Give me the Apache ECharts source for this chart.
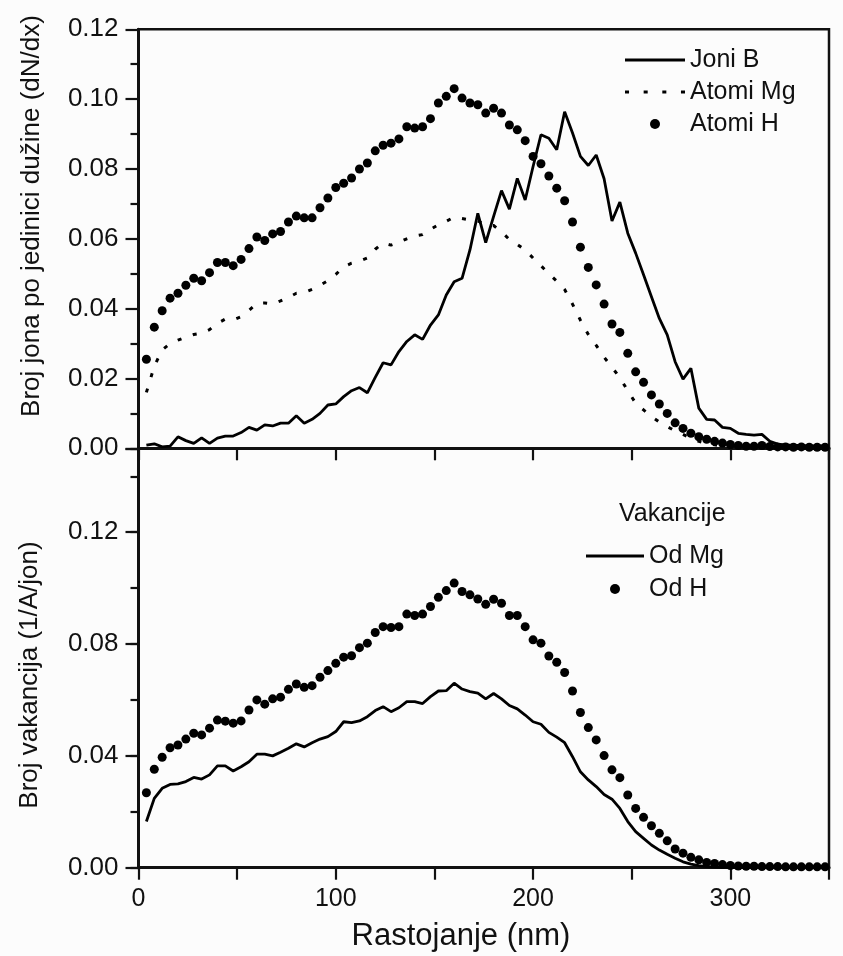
<!DOCTYPE html>
<html>
<head>
<meta charset="utf-8">
<script src="https://cdn.jsdelivr.net/npm/echarts@6/dist/echarts.min.js"></script>
<style>
html,body{margin:0;padding:0;background:#fcfcfc;}
#chart{width:843px;height:956px;}
</style>
</head>
<body>
<div id="chart"></div>
<script>
// Depth (nm)
var depth = [4,8,12,16,20,24,28,32,36,40,
  44,48,52,56,60,64,68,72,76,80,
  84,88,92,96,100,104,108,112,116,120,
  124,128,132,136,140,144,148,152,156,160,
  164,168,172,176,180,184,188,192,196,200,
  204,208,212,216,220,224,228,232,236,240,
  244,248,252,256,260,264,268,272,276,280,
  284,288,292,296,300,304,308,312,316,320,
  324,328,332,336,340,344,348];

var joniB = [0.0009,0.0013,0.0004,0.0006,0.0033,0.0022,0.0014,0.0030,0.0014,0.0029,
  0.0035,0.0035,0.0045,0.0060,0.0052,0.0067,0.0064,0.0072,0.0072,0.0093,
  0.0072,0.0083,0.0100,0.0124,0.0127,0.0148,0.0165,0.0174,0.0159,0.0203,
  0.0245,0.0239,0.0277,0.0306,0.0325,0.0312,0.0353,0.0382,0.0439,0.0477,
  0.0487,0.0568,0.0673,0.0589,0.0664,0.0738,0.0685,0.0773,0.0711,0.0807,
  0.0898,0.0888,0.0855,0.0964,0.0903,0.0836,0.0810,0.0840,0.0772,0.0651,
  0.0705,0.0616,0.0559,0.0497,0.0434,0.0372,0.0325,0.0248,0.0198,0.0229,
  0.0115,0.0083,0.0081,0.0060,0.0057,0.0043,0.0040,0.0038,0.0040,0.0020,
  0.0012,0.0010,0.0008,0.0008,0.0007,0.0007,0.0007];

var atomiMg = [0.0160,0.0235,0.0282,0.0300,0.0310,0.0318,0.0326,0.0330,0.0340,0.0358,
  0.0370,0.0368,0.0377,0.0395,0.0415,0.0416,0.0413,0.0422,0.0432,0.0444,
  0.0446,0.0455,0.0467,0.0480,0.0498,0.0520,0.0530,0.0536,0.0545,0.0570,
  0.0588,0.0582,0.0590,0.0600,0.0608,0.0612,0.0627,0.0640,0.0650,0.0662,
  0.0658,0.0654,0.0651,0.0640,0.0638,0.0620,0.0598,0.0584,0.0568,0.0545,
  0.0523,0.0500,0.0479,0.0455,0.0413,0.0367,0.0326,0.0295,0.0261,0.0232,
  0.0202,0.0165,0.0129,0.0110,0.0091,0.0075,0.0062,0.0050,0.0040,0.0028,
  0.0020,0.0014,0.0010,0.0006,0.0004,0.0003,0.0002,0.0002,0.0002,0.0001,
  0.0001,0.0001,0.0001,0.0001,0.0001,0.0001,0.0001];

var atomiH = [0.0255,0.0347,0.0394,0.0430,0.0444,0.0467,0.0487,0.0480,0.0503,0.0532,
  0.0532,0.0523,0.0541,0.0572,0.0605,0.0595,0.0614,0.0621,0.0648,0.0665,
  0.0660,0.0660,0.0689,0.0717,0.0747,0.0759,0.0774,0.0800,0.0817,0.0852,
  0.0868,0.0874,0.0886,0.0921,0.0917,0.0921,0.0944,0.0989,0.1008,0.1030,
  0.1003,0.0989,0.0984,0.0960,0.0974,0.0960,0.0926,0.0912,0.0881,0.0836,
  0.0815,0.0780,0.0745,0.0709,0.0648,0.0576,0.0518,0.0468,0.0413,0.0356,
  0.0332,0.0272,0.0219,0.0189,0.0153,0.0127,0.0100,0.0073,0.0057,0.0043,
  0.0033,0.0026,0.0020,0.0015,0.0011,0.0008,0.0006,0.0006,0.0008,0.0005,
  0.0004,0.0004,0.0003,0.0004,0.0003,0.0003,0.0003];

var odMg = [0.0165,0.0248,0.0284,0.0298,0.0300,0.0308,0.0323,0.0317,0.0332,0.0364,
  0.0364,0.0346,0.0361,0.0379,0.0406,0.0406,0.0400,0.0413,0.0427,0.0443,
  0.0432,0.0447,0.0460,0.0469,0.0487,0.0522,0.0519,0.0525,0.0540,0.0562,
  0.0576,0.0558,0.0572,0.0594,0.0594,0.0587,0.0612,0.0632,0.0633,0.0660,
  0.0639,0.0630,0.0624,0.0604,0.0623,0.0604,0.0580,0.0568,0.0546,0.0522,
  0.0513,0.0484,0.0467,0.0447,0.0397,0.0343,0.0314,0.0290,0.0262,0.0245,
  0.0212,0.0165,0.0129,0.0105,0.0081,0.0063,0.0048,0.0034,0.0021,0.0013,
  0.0007,0.0004,0.0002,0.0001,0.0001,0.0001,0.0001,0.0001,0.0001,0.0001,
  0.0001,0.0001,0.0001,0.0001,0.0001,0.0001,0.0001];

var odH = [0.0268,0.0352,0.0395,0.0429,0.0439,0.0460,0.0481,0.0475,0.0499,0.0528,
  0.0524,0.0517,0.0525,0.0564,0.0600,0.0585,0.0604,0.0610,0.0638,0.0657,
  0.0645,0.0651,0.0681,0.0705,0.0731,0.0753,0.0758,0.0787,0.0803,0.0841,
  0.0862,0.0859,0.0862,0.0907,0.0902,0.0907,0.0934,0.0967,0.0991,0.1018,
  0.0988,0.0976,0.0961,0.0942,0.0960,0.0946,0.0902,0.0902,0.0862,0.0815,
  0.0803,0.0757,0.0735,0.0698,0.0632,0.0555,0.0501,0.0457,0.0401,0.0350,
  0.0322,0.0260,0.0212,0.0180,0.0150,0.0123,0.0096,0.0067,0.0052,0.0037,
  0.0028,0.0019,0.0015,0.0011,0.0008,0.0006,0.0005,0.0005,0.0004,0.0004,
  0.0004,0.0003,0.0003,0.0003,0.0003,0.0003,0.0003];

var xLabelsShown = [0,100,200,300];
var topTicks = [0,0.02,0.04,0.06,0.08,0.10,0.12];
var bottomTicks = [0,0.04,0.08,0.12];

var FONT = "'Liberation Sans', Arial, Helvetica, sans-serif";
var INK = '#111';

function pairs(arr){ return depth.map(function(x,i){ return [x, arr[i]]; }); }
function near(v, list){ for (var i=0;i<list.length;i++){ if (Math.abs(v-list[i])<1e-6) return true; } return false; }

var axisLineStyle = {show:true, lineStyle:{color:INK, width:3}};
var tickStyle = {color:INK, width:2.2};
var yLabelStyle = {color:INK, fontSize:26, fontFamily:FONT};
var xLabelStyle = {color:INK, fontSize:25, fontFamily:FONT};

var solidIcon = 'path://M0,0H60V2.8H0Z';
var dottedIcon = 'path://M0,0h4v3h-4zM18.5,0h4v3h-4zM37,0h4v3h-4zM55.5,0h4v3h-4z';

var chart = echarts.init(document.getElementById('chart'), null, {renderer:'canvas'});
chart.setOption({
  backgroundColor:'#fcfcfc',
  animation:false,
  grid:[
    {left:138.5, right:14, top:29.3, height:419, show:true, borderColor:INK, borderWidth:2.5, backgroundColor:'transparent'},
    {left:138.5, right:14, top:448.3, height:419.4, show:true, borderColor:INK, borderWidth:2.5, backgroundColor:'transparent'}
  ],
  xAxis:[
    {gridIndex:0, type:'value', min:0, max:350, interval:50,
     axisLine:axisLineStyle, axisTick:{show:true, inside:false, length:12, lineStyle:tickStyle},
     axisLabel:{show:false}, splitLine:{show:false}},
    {gridIndex:1, type:'value', min:0, max:350, interval:50,
     axisLine:axisLineStyle, axisTick:{show:true, inside:false, length:12, lineStyle:tickStyle},
     axisLabel:Object.assign({margin:19, formatter:function(v){ return near(v, xLabelsShown) ? String(v) : ''; }}, xLabelStyle),
     splitLine:{show:false}}
  ],
  yAxis:[
    {gridIndex:0, type:'value', min:0, max:0.12, interval:0.02,
     axisLine:axisLineStyle, axisTick:{show:true, inside:false, length:13, lineStyle:tickStyle},
     minorTick:{show:true, splitNumber:2, length:8, lineStyle:tickStyle},
     axisLabel:Object.assign({margin:20, formatter:function(v){ return near(v, topTicks) ? v.toFixed(2) : ''; }}, yLabelStyle),
     splitLine:{show:false}, minorSplitLine:{show:false}},
    {gridIndex:1, type:'value', position:'left', min:0, max:0.15, interval:0.04,
     axisLine:axisLineStyle, axisTick:{show:true, inside:false, length:13, lineStyle:tickStyle},
     axisLabel:Object.assign({margin:20, formatter:function(v){ return near(v, bottomTicks) ? v.toFixed(2) : ''; }}, yLabelStyle),
     splitLine:{show:false}},
    {gridIndex:1, type:'value', position:'left', min:0, max:0.15, interval:0.02,
     axisLine:{show:false}, axisTick:{show:true, inside:false, length:8, lineStyle:tickStyle},
     axisLabel:{show:false}, splitLine:{show:false}}
  ],
  legend:[
    {data:[{name:'Joni B', icon:solidIcon},{name:'Atomi Mg', icon:dottedIcon},{name:'Atomi H', icon:'circle'}],
     orient:'vertical', left:625, top:47, padding:0,
     itemWidth:60, itemHeight:10, itemGap:6, selectedMode:false,
     itemStyle:{color:'#000', opacity:1},
     textStyle:{color:INK, fontSize:25, fontFamily:FONT, lineHeight:26}},
    {data:[{name:'Od Mg', icon:'path://M0,0H58V2.8H0Z'},{name:'Od H', icon:'circle'}],
     orient:'vertical', left:586, top:543, padding:0,
     itemWidth:58, itemHeight:10, itemGap:7, selectedMode:false,
     itemStyle:{color:'#000', opacity:1},
     textStyle:{color:INK, fontSize:25, fontFamily:FONT, lineHeight:26}}
  ],
  graphic:[
    {type:'text', x:32, y:216, rotation:Math.PI/2,
     style:{text:'Broj jona po jedinici dužine (dN/dx)', fontSize:26, fontFamily:FONT, fill:INK, align:'center', verticalAlign:'middle'}},
    {type:'text', x:30, y:675, rotation:Math.PI/2,
     style:{text:'Broj vakancija (1/A/jon)', fontSize:26, fontFamily:FONT, fill:INK, align:'center', verticalAlign:'middle'}},
    {type:'text', x:461, y:936,
     style:{text:'Rastojanje (nm)', fontSize:31, fontFamily:FONT, fill:INK, align:'center', verticalAlign:'middle'}},
    {type:'text', x:619, y:514,
     style:{text:'Vakancije', fontSize:25, fontFamily:FONT, fill:INK, align:'left', verticalAlign:'middle'}}
  ],
  series:[
    {name:'Joni B', type:'line', xAxisIndex:0, yAxisIndex:0, data:pairs(joniB),
     symbol:'none', lineStyle:{color:'#000', width:2.8}, itemStyle:{color:'#000'}},
    {name:'Atomi Mg', type:'line', xAxisIndex:0, yAxisIndex:0, data:pairs(atomiMg),
     symbol:'none', lineStyle:{color:'#000', width:3, type:[4,12], cap:'butt'}, itemStyle:{color:'#000'}},
    {name:'Atomi H', type:'scatter', xAxisIndex:0, yAxisIndex:0, data:pairs(atomiH),
     symbol:'circle', symbolSize:9, itemStyle:{color:'#000', opacity:1}},
    {name:'Od Mg', type:'line', xAxisIndex:1, yAxisIndex:1, data:pairs(odMg),
     symbol:'none', lineStyle:{color:'#000', width:2.8}, itemStyle:{color:'#000'}},
    {name:'Od H', type:'scatter', xAxisIndex:1, yAxisIndex:1, data:pairs(odH),
     symbol:'circle', symbolSize:9, itemStyle:{color:'#000', opacity:1}}
  ]
});
</script>
</body>
</html>
